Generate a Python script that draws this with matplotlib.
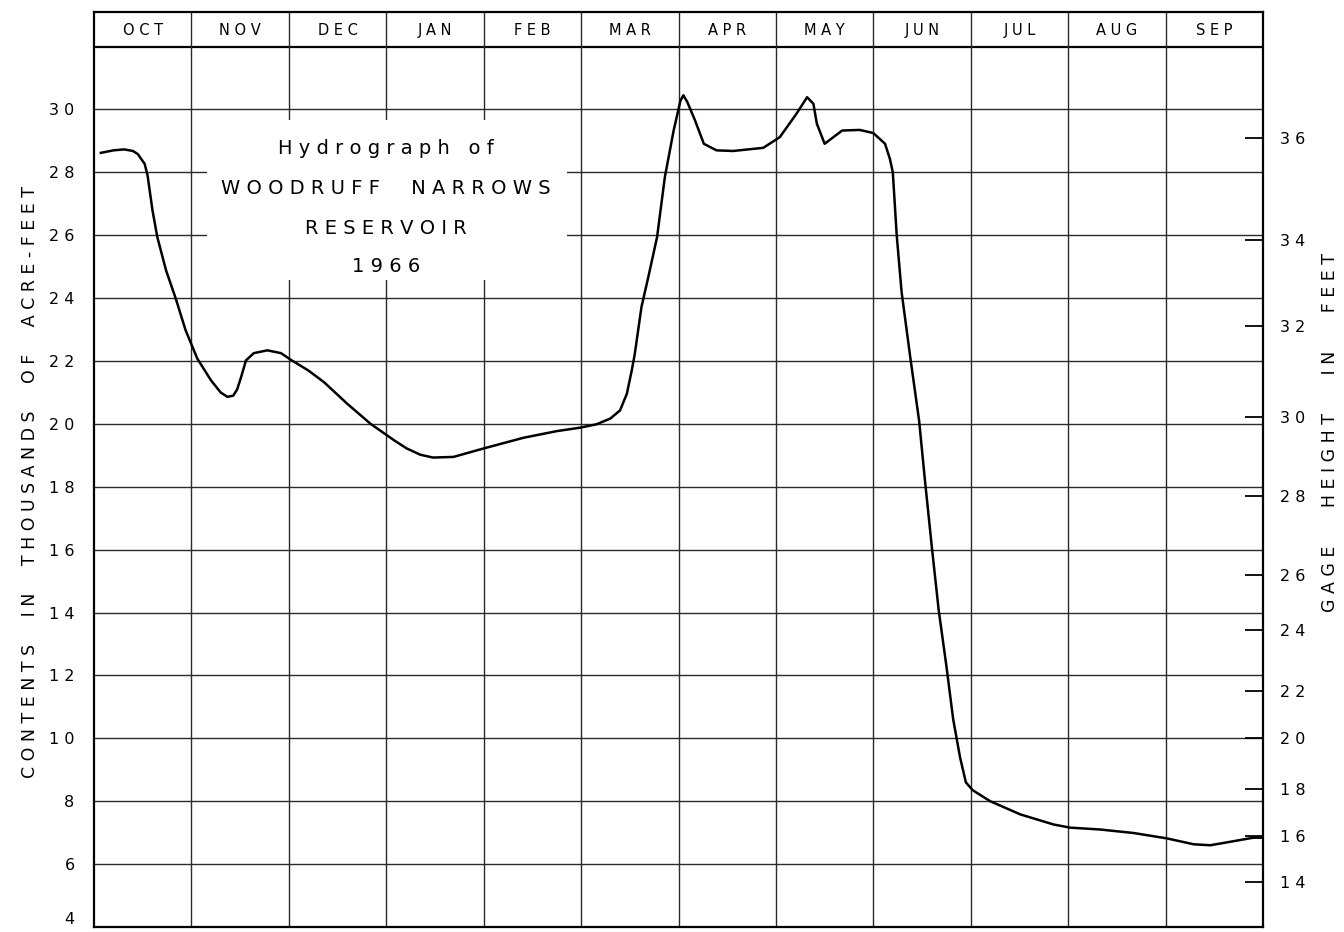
import matplotlib
matplotlib.use("Agg")
import matplotlib.pyplot as plt
from matplotlib.patches import Rectangle

# ---------------- data ----------------
months = ["OCT", "NOV", "DEC", "JAN", "FEB", "MAR",
          "APR", "MAY", "JUN", "JUL", "AUG", "SEP"]

# time in months since Oct 1, 1965 (water year 1966)
t_months = [0.07, 0.20, 0.31, 0.40, 0.45, 0.52, 0.55, 0.60, 0.65, 0.74,
            0.84, 0.94, 1.06, 1.20, 1.30, 1.37, 1.43, 1.47, 1.51, 1.56,
            1.64, 1.78, 1.92, 2.02, 2.20, 2.36, 2.60, 2.84, 3.08, 3.21,
            3.35, 3.48, 3.69, 4.00, 4.41, 4.75, 4.99, 5.16, 5.30, 5.40,
            5.47, 5.52, 5.55, 5.62, 5.69, 5.78, 5.86, 5.95, 6.02, 6.05,
            6.09, 6.17, 6.26, 6.39, 6.56, 6.87, 7.04, 7.21, 7.32, 7.385,
            7.42, 7.50, 7.59, 7.68, 7.86, 8.00, 8.12, 8.17, 8.20, 8.24,
            8.29, 8.38, 8.47, 8.53, 8.60, 8.67, 8.75, 8.82, 8.89, 8.95,
            9.02, 9.20, 9.51, 9.85, 10.02, 10.33, 10.67, 11.01, 11.29, 11.46,
            11.70, 11.90, 12.00]

# reservoir contents, thousands of acre-feet
contents = [28.62, 28.70, 28.73, 28.68, 28.58, 28.27, 27.90, 26.80, 25.94, 24.88,
            23.98, 22.98, 22.08, 21.39, 21.00, 20.86, 20.90, 21.10, 21.49, 22.02,
            22.25, 22.34, 22.25, 22.04, 21.70, 21.33, 20.64, 20.00, 19.48, 19.22,
            19.02, 18.93, 18.95, 19.22, 19.56, 19.77, 19.88, 19.99, 20.17, 20.43,
            20.96, 21.70, 22.20, 23.72, 24.67, 25.94, 27.85, 29.33, 30.28, 30.45,
            30.24, 29.65, 28.91, 28.70, 28.68, 28.78, 29.12, 29.86, 30.39, 30.18,
            29.55, 28.91, 29.12, 29.33, 29.35, 29.25, 28.91, 28.43, 28.00, 26.00,
            24.20, 22.10, 20.10, 18.20, 16.10, 14.10, 12.30, 10.60, 9.40, 8.60,
            8.35, 8.00, 7.58, 7.26, 7.16, 7.10, 6.99, 6.82, 6.63, 6.60,
            6.73, 6.84, 6.84]

# left axis (contents) ticks
contents_ticks = [4, 6, 8, 10, 12, 14, 16, 18, 20, 22, 24, 26, 28, 30]

# right axis: gage height labels and the contents they correspond to
gage_labels = [14, 16, 18, 20, 22, 24, 26, 28, 30, 32, 34, 36]
gage_at_contents = [5.42, 6.88, 8.40, 10.00, 11.52, 13.46, 15.21, 17.71,
                    20.23, 23.11, 25.85, 29.08]

title_lines = ["Hydrograph of", "WOODRUFF NARROWS", "RESERVOIR", "1966"]
left_label = "CONTENTS IN THOUSANDS OF ACRE-FEET"
right_label = "GAGE HEIGHT IN FEET"


def spaced(s, word_gap=3):
    words = s.split(" ")
    return (" " * word_gap).join(" ".join(list(w)) for w in words)


# ---------------- figure ----------------
W, H = 1344, 932
fig = plt.figure(figsize=(W / 100, H / 100), dpi=100)
fig.patch.set_facecolor("white")

x0, x1 = 94, 1263
y_top, y_bot = 12, 927
ax = fig.add_axes([x0 / W, 1 - y_bot / H, (x1 - x0) / W, (y_bot - y_top) / H])
ax.set_xlim(0, 12)
ax.set_ylim(4, 33.1)

grid_c = "#2a2a2a"
for v in range(6, 31, 2):
    ax.axhline(v, color=grid_c, lw=1.0, zorder=1)
ax.axhline(32, color="black", lw=1.6, zorder=1)
for m in range(1, 12):
    ax.axvline(m, color=grid_c, lw=1.0, zorder=1)

for sp in ax.spines.values():
    sp.set_linewidth(1.6)
    sp.set_color("black")

# title box blanking the grid
ax.add_patch(Rectangle((1.16, 24.57), 4.86 - 1.16, 29.65 - 24.57,
                       facecolor="white", edgecolor="none", zorder=3))
title_y = [28.76, 27.49, 26.22, 25.01]
title_gap = [3, 5, 5, 5]
for line, yy, g in zip(title_lines, title_y, title_gap):
    ax.text(3.0, yy, spaced(line, word_gap=g), ha="center", va="center",
            fontsize=14, color="black", zorder=4)

# curve
ax.plot(t_months, contents, color="black", lw=1.8, zorder=5,
        solid_joinstyle="round")

# month header
for i, mname in enumerate(months):
    ax.text(i + 0.5, 32.52, spaced(mname), ha="center", va="center",
            fontsize=10.5, color="black")

# left ticks
ax.set_xticks([])
ax.set_yticks(contents_ticks)
ax.set_yticklabels([spaced(str(v)) for v in contents_ticks], fontsize=11.5)
ax.tick_params(axis="y", length=0, pad=14)
for lab in ax.get_yticklabels():
    if lab.get_text() == spaced(str(contents_ticks[0])):
        lab.set_verticalalignment("bottom")

# right gage-height ticks
ax2 = ax.twinx()
ax2.set_ylim(ax.get_ylim())
ax2.set_yticks(gage_at_contents)
ax2.set_yticklabels([spaced(str(v)) for v in gage_labels], fontsize=11.5)
ax2.tick_params(axis="y", direction="in", length=13, width=1.3, pad=12)
for sp in ax2.spines.values():
    sp.set_visible(False)

# axis titles
fig.text(30 / W, 1 - 482 / H, spaced(left_label, word_gap=5), rotation=90,
         ha="center", va="center", fontsize=12.5)
fig.text(1330 / W, 1 - 432 / H, spaced(right_label, word_gap=7), rotation=90,
         ha="center", va="center", fontsize=12.5)

fig.savefig("out.png", dpi=100, facecolor="white")
